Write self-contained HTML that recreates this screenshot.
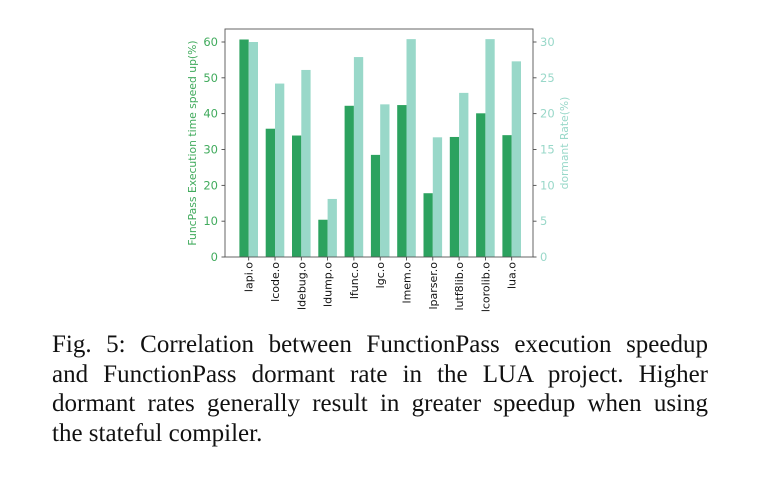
<!DOCTYPE html>
<html><head><meta charset="utf-8"><style>
body{margin:0;background:#fff;width:777px;height:479px;overflow:hidden;position:relative}
#cap{position:absolute;left:52px;top:330px;width:656px;font-family:"Liberation Serif",serif;font-size:25px;line-height:29.5px;color:#111}
#cap div{white-space:nowrap;text-align:justify;text-align-last:justify;height:29.5px}
#cap div.last{text-align-last:left}
</style></head><body>
<svg width="777" height="330" style="position:absolute;left:0;top:0">
<g id="g"></g>
</svg>
<div id="cap">
<div>Fig. 5: Correlation between FunctionPass execution speedup</div>
<div>and FunctionPass dormant rate in the LUA project. Higher</div>
<div>dormant rates generally result in greater speedup when using</div>
<div class="last">the stateful compiler.</div>
</div>
<script>
const categories=["lapi.o","lcode.o","ldebug.o","ldump.o","lfunc.o","lgc.o","lmem.o","lparser.o","lutf8lib.o","lcorolib.o","lua.o"];
const speedup=[60.7,35.8,33.9,10.4,42.2,28.5,42.4,17.8,33.5,40.1,34.0];
const dormant=[30.0,24.2,26.1,8.1,27.9,21.3,30.4,16.7,22.9,30.4,27.3];
const leftTicks=[0,10,20,30,40,50,60];
const rightTicks=[0,5,10,15,20,25,30];
const X0=225,X1=533,Y0=257,Y60=42,TOP=29;
const yL=v=>Y0-(Y0-Y60)*v/60;
const yR=v=>Y0-(Y0-Y60)*v/30;
const step=26.3,first=248.7,bw=9.3;
const xc=i=>first+i*step;
const g=document.getElementById('g');const NS="http://www.w3.org/2000/svg";
function mk(t,a){const e=document.createElementNS(NS,t);for(const k in a)e.setAttribute(k,a[k]);g.appendChild(e);return e;}
categories.forEach((c,i)=>{
 let r=mk('rect',{x:xc(i)-bw,y:yL(speedup[i]),width:bw,height:Y0-yL(speedup[i]),fill:'#2ca25f'});
 
 
 let r2=mk('rect',{x:xc(i),y:yR(dormant[i]),width:bw,height:Y0-yR(dormant[i]),fill:'#99d8c9'});
 
 
 const x=xc(i)+4;
 let t=mk('text',{x:x,y:262,transform:`rotate(-90 ${x} 262)`,'text-anchor':'end','font-family':'DejaVu Sans,sans-serif','font-size':'11',fill:'#111'});
 t.textContent=c;
 
 
 mk('line',{x1:xc(i),x2:xc(i),y1:Y0,y2:Y0+3.5,stroke:'#333','stroke-width':0.8});
});
leftTicks.forEach(v=>{
 mk('line',{x1:X0-3.5,x2:X0,y1:yL(v),y2:yL(v),stroke:'#333','stroke-width':0.8});
 let t=mk('text',{x:X0-7,y:yL(v)+4,'text-anchor':'end','font-family':'DejaVu Sans,sans-serif','font-size':'11.5',fill:'#41ab5d'});
 t.textContent=v;
 
 
});
rightTicks.forEach(v=>{
 mk('line',{x1:X1,x2:X1+3.5,y1:yR(v),y2:yR(v),stroke:'#333','stroke-width':0.8});
 let t=mk('text',{x:X1+7,y:yR(v)+4,'font-family':'DejaVu Sans,sans-serif','font-size':'11.5',fill:'#99d8c9'});
 t.textContent=v;
 
 
});
mk('rect',{x:X0,y:TOP,width:X1-X0,height:Y0-TOP,fill:'none',stroke:'#555','stroke-width':0.9});
let yl=mk('text',{x:196,y:143,transform:'rotate(-90 196 143)','text-anchor':'middle','font-family':'DejaVu Sans,sans-serif','font-size':'10.8',fill:'#41ab5d'});
yl.textContent='FuncPass Execution time speed up(%)';


let yr=mk('text',{x:568,y:143,transform:'rotate(-90 568 143)','text-anchor':'middle','font-family':'DejaVu Sans,sans-serif','font-size':'10.8',fill:'#99d8c9'});
yr.textContent='dormant Rate(%)';


</script>
</body></html>
